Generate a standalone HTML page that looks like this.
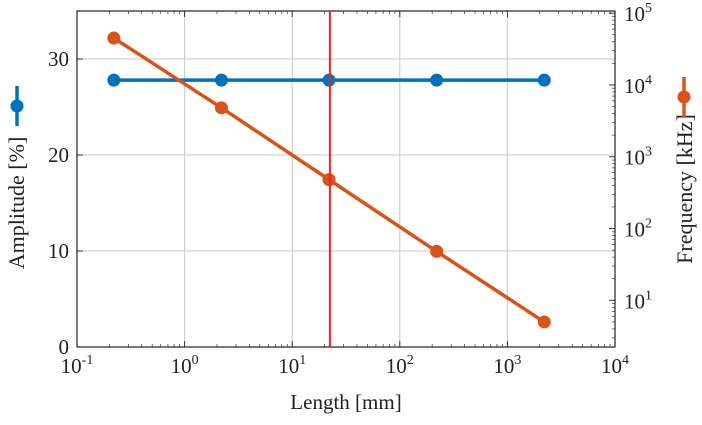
<!DOCTYPE html>
<html><head><meta charset="utf-8"><style>
body{margin:0;background:#fff}
svg text{font-family:"Liberation Serif",serif;fill:#222}
</style></head><body>
<svg id="c" width="702" height="420" viewBox="0 0 702 420" xmlns="http://www.w3.org/2000/svg"></svg>
<script>
const xVals=[0.22,2.2,22,220,2200];
const ampVals=[27.8,27.8,27.8,27.8,27.8];
const freqVals=[45000,4800,480,48,5];
const markerX=22.4;
const xTicks=[-1,0,1,2,3,4];
const yLeftTicks=[0,10,20,30];
const yRightTicks=[1,2,3,4,5];

const L=77,R=615,T=11,B=347;
const xs=v=>L+(Math.log10(v)+1)/5*(R-L);
const yl=v=>B-v/35*(B-T);
const yrMin=0.35,yrMax=5.03;
const yr=v=>B-(Math.log10(v)-yrMin)/(yrMax-yrMin)*(B-T);
const svg=document.getElementById('c');
const NS='http://www.w3.org/2000/svg';
function mk(tag,attrs,parent){const e=document.createElementNS(NS,tag);for(const k in attrs)e.setAttribute(k,attrs[k]);(parent||svg).appendChild(e);return e;}

for(const t of xTicks){const x=L+(t+1)/5*(R-L);
 const g=mk('line',{x1:x,x2:x,y1:T,y2:B,stroke:'#c8c8c8','stroke-width':1});
 }
for(const t of yLeftTicks){const y=yl(t);
 const g=mk('line',{x1:L,x2:R,y1:y,y2:y,stroke:'#c8c8c8','stroke-width':1});
 }
for(let d=-1;d<4;d++)for(let m=2;m<10;m++){const x=xs(m*Math.pow(10,d));
 mk('line',{x1:x,x2:x,y1:B,y2:B-3,stroke:'#333','stroke-width':0.7});
 mk('line',{x1:x,x2:x,y1:T,y2:T+3,stroke:'#333','stroke-width':0.7});}
for(const t of xTicks){const x=L+(t+1)/5*(R-L);
 mk('line',{x1:x,x2:x,y1:B,y2:B-6,stroke:'#333'});mk('line',{x1:x,x2:x,y1:T,y2:T+6,stroke:'#333'});
 const tx=mk('text',{x:x,y:B+26,'font-size':21,'text-anchor':'middle'});
 tx.innerHTML='10<tspan dy="-9" font-size="14">'+t+'</tspan>';
 }
for(const t of yLeftTicks){const y=yl(t);
 mk('line',{x1:L,x2:L+6,y1:y,y2:y,stroke:'#333'});
 const tx=mk('text',{x:L-8,y:y+7,'font-size':21,'text-anchor':'end'});tx.textContent=t;
 }
for(let d=0;d<6;d++)for(let m=1;m<10;m++){const v=m*Math.pow(10,d);const lv=Math.log10(v);
 if(lv<yrMin||lv>yrMax)continue;const y=yr(v);
 mk('line',{x1:R,x2:R-(m==1?6:3),y1:y,y2:y,stroke:'#333','stroke-width':m==1?1:0.7});}
for(const t of yRightTicks){const y=yr(Math.pow(10,t));
 const tx=mk('text',{x:R+9,y:y+8,'font-size':21});
 tx.innerHTML='10<tspan dy="-9" font-size="14">'+t+'</tspan>';
 }
const fr=mk('rect',{x:L,y:T,width:R-L,height:B-T,fill:'none',stroke:'#222','stroke-width':1.2});

function series(vals,yf,color,name){
 const pts=xVals.map((x,i)=>xs(x)+','+yf(vals[i])).join(' ');
 const pl=mk('polyline',{points:pts,fill:'none',stroke:color,'stroke-width':3.5});
 
 xVals.forEach((x,i)=>{const c=mk('circle',{cx:xs(x),cy:yf(vals[i]),r:6.5,fill:color});
  });}
series(ampVals,yl,'#0072BD','amplitude');
series(freqVals,yr,'#D95319','frequency');
const rl=mk('line',{x1:xs(markerX),x2:xs(markerX),y1:T,y2:B,stroke:'#f02020','stroke-width':2});

let t=mk('text',{x:(L+R)/2,y:409,'font-size':21,'text-anchor':'middle'});t.textContent='Length [mm]';

t=mk('text',{x:0,y:0,'font-size':22,'text-anchor':'middle',transform:'translate(24,203) rotate(-90)'});t.textContent='Amplitude [%]';

t=mk('text',{x:0,y:0,'font-size':22,'text-anchor':'middle',transform:'translate(692,189) rotate(-90)'});t.textContent='Frequency [kHz]';

let g=mk('g',{});
mk('line',{x1:17,x2:17,y1:86,y2:126,stroke:'#0072BD','stroke-width':3.5},g);mk('circle',{cx:17,cy:106,r:6.5,fill:'#0072BD'},g);
g=mk('g',{});
mk('line',{x1:684,x2:684,y1:77,y2:117,stroke:'#D95319','stroke-width':3.5},g);mk('circle',{cx:684,cy:97,r:6.5,fill:'#D95319'},g);
</script>
</body></html>
